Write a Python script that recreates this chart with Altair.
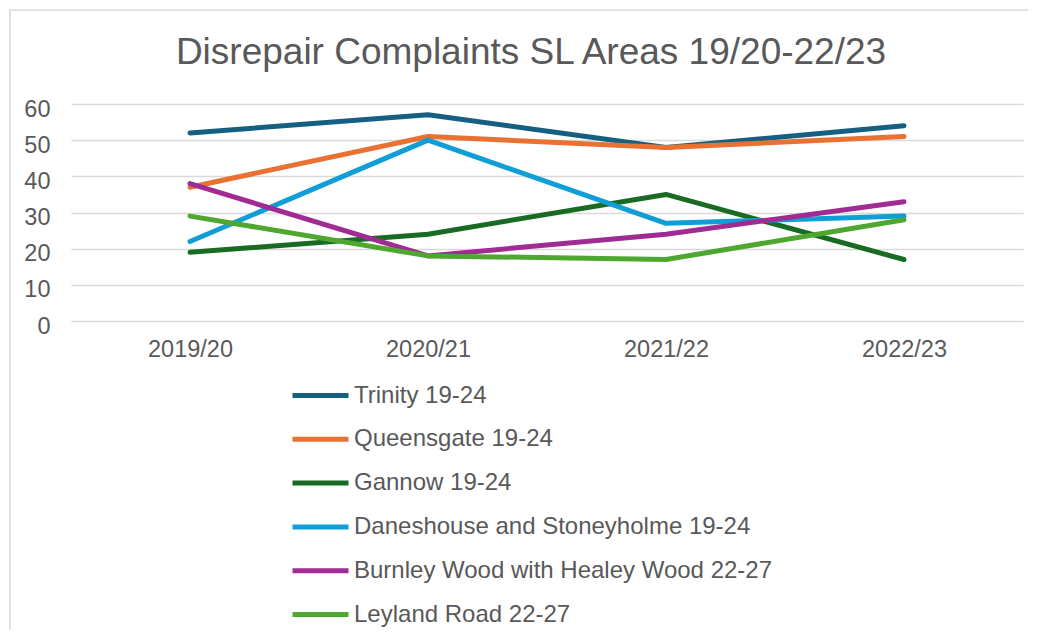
import altair as alt
import pandas as pd

years = ["2019/20", "2020/21", "2021/22", "2022/23"]
series_names = [
    "Trinity 19-24",
    "Queensgate 19-24",
    "Gannow 19-24",
    "Daneshouse and Stoneyholme 19-24",
    "Burnley Wood with Healey Wood 22-27",
    "Leyland Road 22-27",
]
trinity = [52, 57, 48, 54]
queensgate = [37, 51, 48, 51]
gannow = [19, 24, 35, 17]
daneshouse = [22, 50, 27, 29]
burnley_wood = [38, 18, 24, 33]
leyland = [29, 18, 17, 28]
colors = ["#156082", "#E97132", "#196B24", "#0F9ED5", "#A02B93", "#4EA72E"]

all_values = [trinity, queensgate, gannow, daneshouse, burnley_wood, leyland]
rows = []
for name, vals in zip(series_names, all_values):
    for yr, v in zip(years, vals):
        rows.append({"Area": name, "Year": yr, "Complaints": v})
df = pd.DataFrame(rows)

FONT = "Liberation Sans"
TXT = "#595959"
GRID = "#D9D9D9"

frame = alt.Chart(pd.DataFrame({"a": [0]})).mark_rect(
    fill=None, stroke=GRID, strokeWidth=1.5
).encode(
    x=alt.value(-61), x2=alt.value(2000), y=alt.value(-94), y2=alt.value(2000)
)

lines = alt.Chart(df).mark_line(
    strokeWidth=5, strokeCap="round", strokeJoin="round"
).encode(
    x=alt.X("Year:N", sort=years, title=None,
            scale=alt.Scale(type="point", padding=0.5),
            axis=alt.Axis(labelAngle=0, ticks=False, tickSize=0, domain=False,
                          grid=False, labelFontSize=23.5, labelColor=TXT,
                          labelFont=FONT, labelPadding=16)),
    y=alt.Y("Complaints:Q", title=None,
            scale=alt.Scale(domain=[0, 60], nice=False, zero=True),
            axis=alt.Axis(values=[0, 10, 20, 30, 40, 50, 60], ticks=False, tickSize=0,
                          domain=False, grid=True, gridColor=GRID, gridWidth=1.5,
                          labelFontSize=23.5, labelColor=TXT, labelFont=FONT,
                          labelPadding=21, labelOffset=5)),
    color=alt.Color("Area:N", sort=series_names,
                    scale=alt.Scale(domain=series_names, range=colors),
                    legend=alt.Legend(orient="none", legendX=219, legendY=261,
                                      direction="vertical", title=None,
                                      symbolType="stroke", symbolSize=3136,
                                      symbolStrokeWidth=5, labelFontSize=24,
                                      labelFont=FONT, labelColor=TXT,
                                      labelOffset=3, rowPadding=0.8, padding=0,
                                      labelLimit=600)),
    detail="Area:N",
)

chart = alt.layer(frame, lines).properties(
    width=952,
    height=217,
    padding={"left": 63, "top": 96, "right": 5, "bottom": 309},
    autosize=alt.AutoSizeParams(type="none"),
    title=alt.TitleParams("Disrepair Complaints SL Areas 19/20-22/23",
                          fontSize=37, font=FONT, color=TXT, fontWeight="normal",
                          anchor="middle", dx=-16, dy=92, baseline="alphabetic", offset=0),
).configure(background="white", view=alt.ViewConfig(stroke=None))

chart.save("out.html", embed_options={"renderer": "svg", "actions": False})
